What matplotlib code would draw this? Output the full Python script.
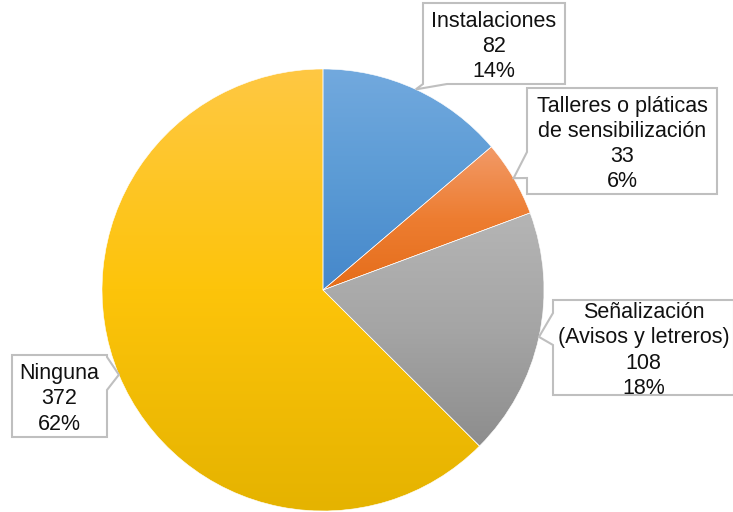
import numpy as np
import matplotlib
matplotlib.use("Agg")
import matplotlib.pyplot as plt
from matplotlib.colors import LinearSegmentedColormap
from matplotlib.patches import Polygon

# Data
categories = ["Instalaciones", "Talleres o pláticas\nde sensibilización",
              "Señalización\n(Avisos y letreros)", "Ninguna"]
values = [82, 33, 108, 372]
pct_labels = ["14%", "6%", "18%", "62%"]

# Gradient stops (top, middle, bottom) for each slice
gradients = [
    ["#72a9de", "#5b9bd5", "#4587ca"],
    ["#f29a68", "#ed7d31", "#e56d1a"],
    ["#b5b5b5", "#a5a5a5", "#8d8d8d"],
    ["#ffc843", "#fdc40a", "#e5b300"],
]

W, H = 733, 512
fig = plt.figure(figsize=(W / 100, H / 100), dpi=100)
ax = fig.add_axes([0, 0, 1, 1])

cx, cy, R = 323, H - 290, 221
wedges, _ = ax.pie(values, startangle=90, counterclock=False,
                   center=(cx, cy), radius=R, frame=True,
                   wedgeprops=dict(edgecolor="white", linewidth=0.4))
ax.set_xlim(0, W)
ax.set_ylim(0, H)
ax.set_aspect("equal")
ax.axis("off")

for w, stops in zip(wedges, gradients):
    w.set_facecolor("none")
    bb = w.get_path().get_extents(w.get_patch_transform())
    cmap = LinearSegmentedColormap.from_list("g", stops[::-1])
    grad = np.linspace(0, 1, 256).reshape(-1, 1)
    im = ax.imshow(grad, cmap=cmap, origin="lower", aspect="auto",
                   extent=[bb.x0, bb.x1, bb.y0, bb.y1], zorder=1,
                   interpolation="bilinear")
    im.set_clip_path(w)
    w.set_zorder(2)

# Callout boxes: (x0, y_top, x1, y_bottom) in pixel rows from top, side, pointer base
boxes = [
    (423, 3, 565, 84, "bottom", (423, 447)),
    (527, 88, 717, 194, "left", (152, 178)),
    (553, 300, 734, 395, "left", (313, 345)),
    (12, 355, 107, 437, "right", (357, 390)),
]

total = sum(values)
ang = 90.0
for (x0, yt, x1, yb, side, base), cat, v, p in zip(boxes, categories, values, pct_labels):
    span = 360.0 * v / total
    mid = np.deg2rad(ang - span / 2)
    ang -= span
    tx, ty = cx + R * np.cos(mid), cy + R * np.sin(mid)
    Y0, Y1 = H - yt, H - yb
    if side == "bottom":
        pts = [(x0, Y0), (x1, Y0), (x1, Y1), (base[1], Y1), (tx, ty), (base[0], Y1), (x0, Y1)]
    elif side == "left":
        pts = [(x0, Y0), (x1, Y0), (x1, Y1), (x0, Y1), (x0, H - base[1]), (tx, ty), (x0, H - base[0])]
    else:
        pts = [(x0, Y0), (x1, Y0), (x1, H - base[0]), (tx, ty), (x1, H - base[1]), (x1, Y1), (x0, Y1)]
    ax.add_patch(Polygon(pts, closed=True, facecolor="white", edgecolor="#bfbfbf",
                         linewidth=1.5, zorder=5))
    ax.text((x0 + x1) / 2, (Y0 + Y1) / 2 - 3, f"{cat}\n{v}\n{p}", ha="center", va="center",
            fontsize=15.5, family="Liberation Sans", color="#111111",
            linespacing=1.27, zorder=6)

fig.savefig("out.png", dpi=100, facecolor="white")
